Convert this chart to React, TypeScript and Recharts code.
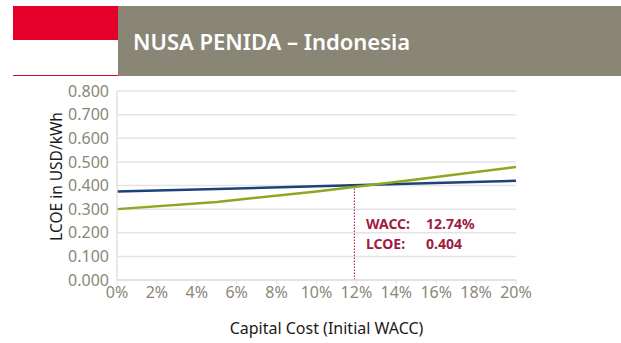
import React from "react";
import { LineChart, Line, XAxis, YAxis, CartesianGrid, ReferenceLine } from "recharts";

const wacc = [0, 5, 10, 15, 20];
const seriesBlue = [0.375, 0.385, 0.397, 0.408, 0.42];
const seriesGreen = [0.3, 0.33, 0.375, 0.425, 0.478];
const xTicks = [0, 2, 4, 6, 8, 10, 12, 14, 16, 18, 20];
const yTicks = [0, 0.1, 0.2, 0.3, 0.4, 0.5, 0.6, 0.7, 0.8];
const crossX = 11.9;
const crossY = 0.404;
const title = "NUSA PENIDA – Indonesia";
const data = wacc.map((w, i) => ({ w, blue: seriesBlue[i], green: seriesGreen[i] }));
const font = "'Noto Sans', sans-serif";
const tickStyle = { fill: "#8a8778", fontSize: 16, fontFamily: font };

export default function App() {
  return (
    <div style={{ position: "absolute", left: 0, top: 0, width: 621, height: 343, background: "#fff", overflow: "hidden", fontFamily: font }}>
      <div style={{ position: "absolute", left: 13, top: 6, width: 105, height: 34, background: "#e4002b" }} />
      <div style={{ position: "absolute", left: 13, top: 75, width: 105, height: 1, background: "#c8102e" }} />
      <div style={{ position: "absolute", left: 118, top: 6, width: 503, height: 70, background: "#8a8676" }} />
      <div style={{ position: "absolute", left: 133, top: 26, color: "#fff", fontSize: 22, fontWeight: 600, lineHeight: "30px", whiteSpace: "nowrap" }}>{title}</div>
      <div style={{ position: "absolute", left: 0, top: 0 }}>
        <LineChart width={621} height={343} data={data} margin={{ top: 91, right: 105, bottom: 0, left: 0 }}>
          <CartesianGrid horizontal vertical={false} stroke="#e4e4e4" strokeWidth={1.5} />
          <XAxis
            dataKey="w"
            type="number"
            domain={[0, 20]}
            ticks={xTicks}
            interval={0}
            tickFormatter={(v: number) => `${v}%`}
            tick={tickStyle}
            tickLine={{ stroke: "#e0e0e0" }}
            tickSize={4}
            tickMargin={3}
            axisLine={{ stroke: "#e0e0e0", strokeWidth: 1.5 }}
            height={63}
            label={{ value: "Capital Cost (Initial WACC)", position: "insideBottom", offset: 9, fill: "#1a1a1a", fontSize: 16, fontFamily: font, dx: 10 }}
          />
          <YAxis
            type="number"
            domain={[0, 0.8]}
            ticks={yTicks}
            interval={0}
            tickFormatter={(v: number) => v.toFixed(3)}
            tick={tickStyle}
            tickLine={false}
            axisLine={{ stroke: "#e0e0e0", strokeWidth: 1.5 }}
            width={117}
            tickSize={0}
            tickMargin={8}
            label={{ value: "LCOE in USD/kWh", angle: -90, position: "insideLeft", offset: 56, fill: "#1a1a1a", fontSize: 15.5, fontFamily: font, dy: -9, style: { textAnchor: "middle" } }}
          />
          <ReferenceLine
            segment={[{ x: crossX, y: 0 }, { x: crossX, y: crossY }]}
            stroke="#a6123c"
            strokeWidth={1}
            strokeDasharray="1.5 1.5"
          />
          <Line dataKey="blue" stroke="#1c4279" strokeWidth={2.5} dot={false} isAnimationActive={false} />
          <Line dataKey="green" stroke="#8ba81f" strokeWidth={2.5} dot={false} isAnimationActive={false} />
        </LineChart>
      </div>
      <div style={{ position: "absolute", left: 366, top: 215, color: "#a01c40", fontSize: 14, fontWeight: 700, lineHeight: "18px", whiteSpace: "pre" }}>
        <div style={{ position: "absolute", left: 0, top: 0 }}>WACC:</div>
        <div style={{ position: "absolute", left: 60, top: 0 }}>12.74%</div>
        <div style={{ position: "absolute", left: 0, top: 19.5 }}>LCOE:</div>
        <div style={{ position: "absolute", left: 60, top: 19.5 }}>0.404</div>
      </div>
    </div>
  );
}
